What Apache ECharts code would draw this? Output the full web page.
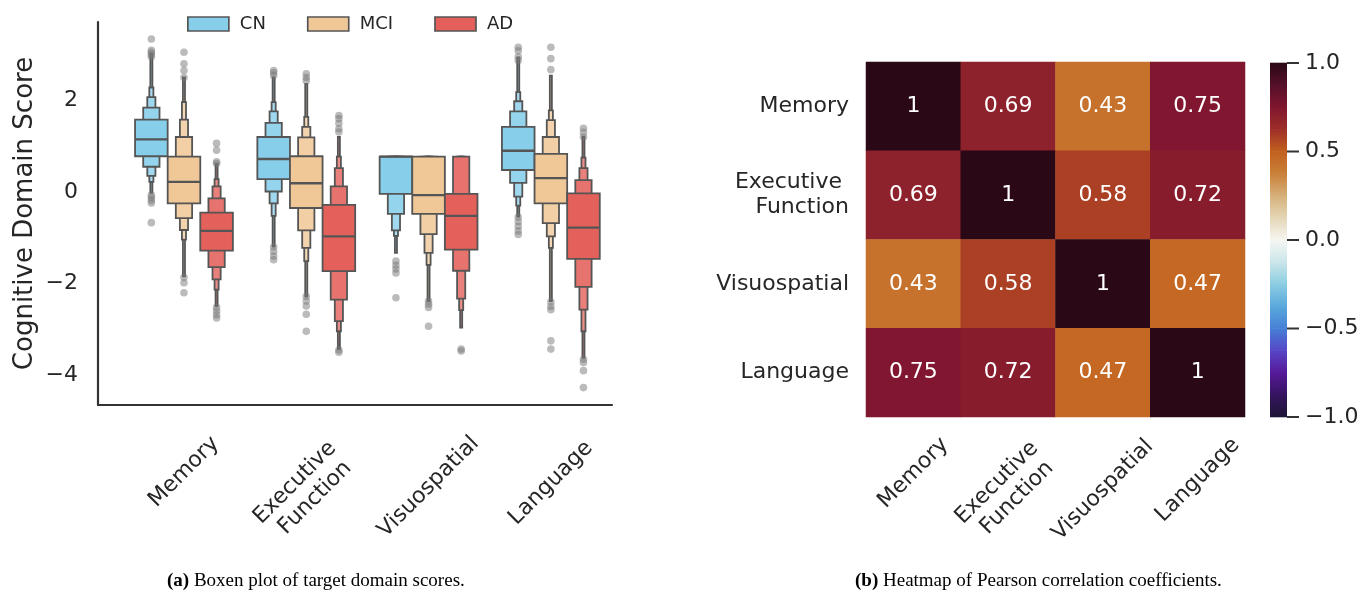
<!DOCTYPE html>
<html><head><meta charset="utf-8">
<script src="https://cdn.jsdelivr.net/npm/echarts@6/dist/echarts.min.js"></script>
<style>html,body{margin:0;padding:0;background:#fff}#c{width:1369px;height:592px}</style>
</head><body><div id="c"></div>
<script>
// ---------------- data ----------------
const domains = ['Memory', 'Executive \nFunction', 'Visuospatial', 'Language'];
const groups = ['CN', 'MCI', 'AD'];
const yTicks = [-4, -2, 0, 2];

// medians per domain
const cnMedians  = [1.15, 0.72, 0.77, 0.90];
const mciMedians = [0.22, 0.19, -0.07, 0.30];
const adMedians  = [-0.85, -0.97, -0.52, -0.78];

// letter-value boxes per domain, [low, high], from the IQR outward
const cnBoxes = [
  [[0.78, 1.58], [0.55, 1.84], [0.35, 2.07], [0.22, 2.28], [-0.02, 3.02]],
  [[0.28, 1.20], [0.01, 1.51], [-0.25, 1.76], [-0.52, 1.96], [-1.19, 2.50]],
  [[-0.04, 0.77], [-0.48, 0.77], [-0.84, 0.77], [-0.96, 0.77], [-1.33, 0.77]],
  [[0.48, 1.42], [0.20, 1.76], [-0.10, 1.98], [-0.30, 2.18], [-0.54, 2.94]]
];
const mciBoxes = [
  [[-0.25, 0.77], [-0.57, 1.20], [-0.83, 1.58], [-1.04, 1.96], [-1.84, 2.50]],
  [[-0.35, 0.78], [-0.84, 1.19], [-1.22, 1.42], [-1.51, 1.64], [-2.28, 2.36]],
  [[-0.48, 0.77], [-0.92, 0.77], [-1.33, 0.77], [-1.59, 0.77], [-2.38, 0.77]],
  [[-0.25, 0.83], [-0.68, 1.20], [-0.97, 1.57], [-1.22, 1.78], [-2.38, 2.54]]
];
const adBoxes = [
  [[-1.28, -0.45], [-1.64, -0.14], [-1.91, 0.12], [-2.13, 0.28], [-2.49, 0.62]],
  [[-1.73, -0.28], [-2.35, 0.12], [-2.82, 0.52], [-3.04, 0.77], [-3.43, 1.20]],
  [[-1.26, -0.04], [-1.72, 0.77], [-2.33, 0.77], [-2.58, 0.77], [-2.96, 0.77]],
  [[-1.46, -0.03], [-2.07, 0.26], [-2.57, 0.52], [-3.04, 0.75], [-3.62, 1.20]]
];

// outliers per domain
const cnOutliers = [
  [3.34, 3.09, 3.05, 3.0, 2.95, -0.07, -0.12, -0.18, -0.24, -0.67],
  [2.65, 2.6, 2.54, -1.2, -1.3, -1.4, -1.48],
  [-1.51, -1.6, -1.68, -1.77, -2.31],
  [3.16, 3.08, 2.95, 2.87, -0.55, -0.65, -0.75, -0.85, -0.93]
];
const mciOutliers = [
  [3.05, 2.8, 2.65, 2.5, -1.86, -1.98, -2.2],
  [2.58, 2.5, 2.43, -2.28, -2.38, -2.49, -2.67, -3.04],
  [-2.38, -2.45, -2.52, -2.93],
  [3.16, 2.91, 2.67, -2.4, -2.5, -2.57, -3.25, -3.43]
];
const adOutliers = [
  [1.06, 0.91, 0.66, 0.62, -2.52, -2.6, -2.68, -2.75],
  [1.67, 1.6, 1.5, 1.38, 1.31, -3.45, -3.5],
  [-3.43, -3.47],
  [1.39, 1.3, 1.2, -3.65, -3.72, -3.9, -4.27]
];

// correlation matrix (rows/cols in domain order)
const corrMemory     = [1, 0.69, 0.43, 0.75];
const corrExecutive  = [0.69, 1, 0.58, 0.72];
const corrVisuo      = [0.43, 0.58, 1, 0.47];
const corrLanguage   = [0.75, 0.72, 0.47, 1];

// colour scale
const cbTicks = [-1, -0.5, 0, 0.5, 1];
const cmapStops = [-1, -0.875, -0.75, -0.625, -0.5, -0.375, -0.25, -0.125, 0, 0.125, 0.25, 0.375, 0.5, 0.625, 0.75, 0.875, 1];
const cmapColors = ['#1d1634', '#361460', '#561a9a', '#5646c6', '#4680d6', '#5aa8dc', '#8ccde2', '#cbe6ea',
  '#f6f6f2', '#e4d6b6', '#d6b07a', '#c98038', '#c2601e', '#9e2e28', '#80162f', '#55102a', '#2a0815'];

// ---------------- styling / helpers ----------------
const groupColors = ['#87CEEB', '#F0C898', '#E4605A'];
const levelLighten = [0, 0.12, 0.2, 0.28, 0.35];
const FONT = 'DejaVu Sans';
const TXT = '#262626';
const EDGE = '#555555';
const hueWidth = 0.8 / 3;

const allBoxes = [cnBoxes, mciBoxes, adBoxes];
const allMedians = [cnMedians, mciMedians, adMedians];
const allOutliers = [cnOutliers, mciOutliers, adOutliers];
const corr = [corrMemory, corrExecutive, corrVisuo, corrLanguage];

function lighten(hex, f) {
  const n = parseInt(hex.slice(1), 16);
  const r = (n >> 16) & 255, g = (n >> 8) & 255, b = n & 255;
  const m = c => Math.round(c + (255 - c) * f);
  return 'rgb(' + m(r) + ',' + m(g) + ',' + m(b) + ')';
}
const minus = v => (v < 0 ? '\u2212' + Math.abs(v) : String(v));

function boxenRender(g) {
  return function (params, api) {
    const d = params.dataIndex;
    const boxes = allBoxes[g][d];
    const xc = api.value(0) + (g - 1) * hueWidth;
    const children = [];
    for (let k = boxes.length - 1; k >= 0; k--) {
      const hw = hueWidth / 2 / Math.pow(2, k);
      const p1 = api.coord([xc - hw, boxes[k][1]]);
      const p2 = api.coord([xc + hw, boxes[k][0]]);
      children.push({
        type: 'rect',
        shape: { x: p1[0], y: p1[1], width: p2[0] - p1[0], height: p2[1] - p1[1] },
        style: { fill: lighten(groupColors[g], levelLighten[k]), stroke: EDGE, lineWidth: 1.8 }
      });
    }
    const m1 = api.coord([xc - hueWidth / 2, api.value(1)]);
    const m2 = api.coord([xc + hueWidth / 2, api.value(1)]);
    children.push({ type: 'line', shape: { x1: m1[0], y1: m1[1], x2: m2[0], y2: m2[1] },
      style: { stroke: EDGE, lineWidth: 2.3 } });
    allOutliers[g][d].forEach(v => {
      const p = api.coord([xc, v]);
      children.push({ type: 'circle', shape: { cx: p[0], cy: p[1], r: 3.8 },
        style: { fill: 'rgba(120,120,120,0.5)' } });
    });
    return { type: 'group', children };
  };
}

// ---------------- grids & axes ----------------
// grids 0-3: boxen plot (one per x label), 4-7: heatmap (one per x label), 8: colour bar
const boxenRect = { left: 98, top: 22, width: 514, height: 383, outerBoundsMode: 'none', containLabel: false };
const heatRect = { left: 866, top: 62, width: 379, height: 355, outerBoundsMode: 'none', containLabel: false };
const grids = [];
for (let i = 0; i < 4; i++) grids.push(Object.assign({}, boxenRect));
for (let i = 0; i < 4; i++) grids.push(Object.assign({}, heatRect));
grids.push({ left: 1270, top: 63, width: 17, height: 354, outerBoundsMode: 'none', containLabel: false });

const boxenLabelMargins = [67, 84, 82, 78];
const heatLabelMargins = [56, 72, 73, 63];
const labelBase = { fontFamily: FONT, fontSize: 22, color: TXT, rotate: 45, align: 'center',
  verticalAlign: 'middle', lineHeight: 25 };

const xAxes = [], yAxes = [];
domains.forEach((name, i) => {
  xAxes.push({
    gridIndex: i, type: 'value', min: -0.703, max: 3.5, position: 'bottom',
    axisLine: { show: i === 0, onZero: false, lineStyle: { color: '#333', width: 2.2 } },
    axisTick: { show: false }, splitLine: { show: false },
    axisLabel: Object.assign({}, labelBase, { customValues: [i], margin: boxenLabelMargins[i],
      formatter: v => domains[Math.round(v)] })
  });
  if (i === 0) {
    yAxes.push({
      gridIndex: 0, type: 'value', min: -4.65, max: 3.71,
      axisLine: { show: true, onZero: false, lineStyle: { color: '#333', width: 2.2 } },
      axisTick: { show: false }, splitLine: { show: false },
      axisLabel: { customValues: yTicks, formatter: minus, fontFamily: FONT, fontSize: 22, color: TXT, margin: 20 },
      name: 'Cognitive Domain Score', nameLocation: 'middle', nameGap: 60,
      nameTextStyle: { fontFamily: FONT, fontSize: 26, color: TXT }
    });
  } else {
    yAxes.push({ gridIndex: i, type: 'value', min: -4.65, max: 3.71, show: false });
  }
});
domains.forEach((name, i) => {
  xAxes.push({
    gridIndex: 4 + i, type: 'category', data: domains, position: 'bottom',
    axisLine: { show: false }, axisTick: { show: false }, splitLine: { show: false },
    axisLabel: Object.assign({}, labelBase, { interval: 0, margin: heatLabelMargins[i],
      formatter: (v, idx) => (idx === i ? v : '') })
  });
  if (i === 0) {
    yAxes.push({
      gridIndex: 4, type: 'category', data: domains, inverse: true,
      axisLine: { show: false }, axisTick: { show: false }, splitLine: { show: false },
      axisLabel: { fontFamily: FONT, fontSize: 22, color: TXT, margin: 17, lineHeight: 25, interval: 0 }
    });
  } else {
    yAxes.push({ gridIndex: 4 + i, type: 'category', data: domains, inverse: true, show: false });
  }
});
xAxes.push({ gridIndex: 8, type: 'value', min: 0, max: 1, show: false });
yAxes.push({
  gridIndex: 8, type: 'value', min: -1, max: 1, interval: 0.5, position: 'right',
  axisLine: { show: false }, splitLine: { show: false }, axisTick: { show: false },
  axisLabel: { fontFamily: FONT, fontSize: 22, color: TXT, margin: 18,
    formatter: v => (v < 0 ? '\u2212' + Math.abs(v).toFixed(1) : v.toFixed(1)) }
});

// ---------------- series ----------------
const series = groups.map((name, g) => ({
  name, type: 'custom', xAxisIndex: 0, yAxisIndex: 0, clip: false,
  itemStyle: { color: groupColors[g], borderColor: EDGE, borderWidth: 1.7 },
  renderItem: boxenRender(g),
  encode: { x: 0, y: 1 },
  data: domains.map((dname, d) => [d, allMedians[g][d]]),
  silent: true
}));

const heatData = [];
corr.forEach((row, yi) => row.forEach((v, xi) => heatData.push([xi, yi, v])));
series.push({
  type: 'heatmap', xAxisIndex: 4, yAxisIndex: 4, data: heatData,
  label: { show: true, color: '#fff', fontFamily: FONT, fontSize: 22, formatter: p => String(p.value[2]) },
  itemStyle: { borderWidth: 0 }, emphasis: { disabled: true }, silent: true
});

// colour bar gradient
series.push({
  type: 'custom', xAxisIndex: 8, yAxisIndex: 8, clip: false, silent: true,
  data: cmapStops.slice(0, -1).map((s, i) => [i, s]),
  encode: { x: 0, y: 1 },
  renderItem: (params, api) => {
    const i = params.dataIndex;
    const top = api.coord([0, cmapStops[i + 1]]);
    const bot = api.coord([1, cmapStops[i]]);
    return {
      type: 'rect',
      shape: { x: top[0], y: top[1] - 0.3, width: bot[0] - top[0], height: bot[1] - top[1] + 0.6 },
      style: { fill: { type: 'linear', x: 0, y: 0, x2: 0, y2: 1,
        colorStops: [{ offset: 0, color: cmapColors[i + 1] }, { offset: 1, color: cmapColors[i] }] } }
    };
  }
});

// colour bar tick marks
series.push({
  type: 'custom', xAxisIndex: 8, yAxisIndex: 8, clip: false, silent: true,
  data: cbTicks.map(t => [1, t]),
  encode: { x: 0, y: 1 },
  renderItem: (params, api) => {
    const p = api.coord([1, api.value(1)]);
    return { type: 'line', shape: { x1: p[0], y1: p[1], x2: p[0] + 12, y2: p[1] },
      style: { stroke: '#333', lineWidth: 2 } };
  }
});

const option = {
  animation: false,
  backgroundColor: '#ffffff',
  grid: grids,
  xAxis: xAxes,
  yAxis: yAxes,
  legend: {
    data: groups, left: 182, top: 8, itemWidth: 41, itemHeight: 14, itemGap: 41, icon: 'rect',
    itemStyle: { borderColor: EDGE, borderWidth: 1.7 },
    textStyle: { fontFamily: FONT, fontSize: 18, color: TXT, padding: [0, 0, 0, 6], lineHeight: 22 },
    selectedMode: false
  },
  visualMap: {
    type: 'continuous', show: false, min: -1, max: 1, dimension: 2, seriesIndex: 3,
    inRange: { color: cmapColors }
  },
  title: [
    { text: '{b|(a)} Boxen plot of target domain scores.', left: 162, top: 567,
      textStyle: { fontFamily: 'Liberation Serif', fontSize: 19, fontWeight: 'normal', color: '#000',
        rich: { b: { fontFamily: 'Liberation Serif', fontSize: 19, fontWeight: 'bold', color: '#000' } } } },
    { text: '{b|(b)} Heatmap of Pearson correlation coefficients.', left: 850, top: 567,
      textStyle: { fontFamily: 'Liberation Serif', fontSize: 19, fontWeight: 'normal', color: '#000',
        rich: { b: { fontFamily: 'Liberation Serif', fontSize: 19, fontWeight: 'bold', color: '#000' } } } }
  ],
  series
};

const chart = echarts.init(document.getElementById('c'), null, { renderer: 'canvas' });
chart.setOption(option);
</script></body></html>
